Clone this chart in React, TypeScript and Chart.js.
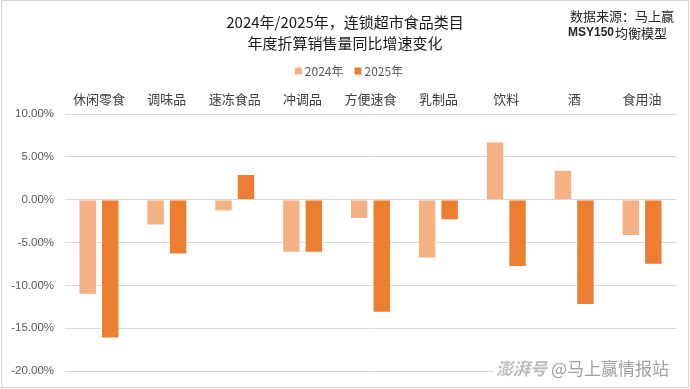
import React, { useEffect, useRef } from "react";
import { Chart, registerables } from "chart.js";

Chart.register(...registerables);

const categories = ["休闲零食", "调味品", "速冻食品", "冲调品", "方便速食", "乳制品", "饮料", "酒", "食用油"];
const series2024 = [-11.1, -3.0, -1.35, -6.2, -2.25, -6.85, 6.8, 3.5, -4.25];
const series2025 = [-16.2, -6.4, 3.0, -6.2, -13.2, -2.4, -7.85, -12.3, -7.6];
const seriesLabels = ["2024年", "2025年"];
const seriesColors = ["#F4B183", "#ED7D31"];
const titleLines = ["2024年/2025年，连锁超市食品类目", "年度折算销售量同比增速变化"];
const sourceLines = ["数据来源：马上赢", "MSY150均衡模型"];
const watermarkLogo = "澎湃号";
const watermarkText = "@马上赢情报站";

const CJK = '"Noto Sans CJK SC", "Liberation Sans", sans-serif';

const decorPlugin = {
  id: "decor",
  beforeDraw(chart: any) {
    const ctx = chart.ctx;
    ctx.save();
    ctx.fillStyle = "#ffffff";
    ctx.fillRect(0, 0, chart.width, chart.height);
    ctx.restore();
  },
  afterDraw(chart: any) {
    const ctx = chart.ctx;
    const cx = chart.width / 2;
    ctx.save();
    // title
    ctx.fillStyle = "#1a1a1a";
    ctx.textAlign = "center";
    ctx.textBaseline = "middle";
    ctx.font = `15px ${CJK}`;
    ctx.fillText(titleLines[0], cx, 22);
    ctx.fillText(titleLines[1], cx, 43);
    // source note
    ctx.textAlign = "left";
    ctx.fillStyle = "#262626";
    ctx.font = `13px ${CJK}`;
    ctx.fillText(sourceLines[0], 570, 16);
    const m = sourceLines[1].match(/^[A-Za-z0-9]+/);
    const head = m ? m[0] : "";
    const rest = sourceLines[1].slice(head.length);
    ctx.font = `bold 12px "Liberation Sans Narrow", "Liberation Sans", sans-serif`;
    ctx.fillText(head, 568, 33);
    const hw = ctx.measureText(head).width;
    ctx.font = `13px ${CJK}`;
    ctx.fillText(rest, 568 + hw + 1, 33);
    // legend
    ctx.font = `12px ${CJK}`;
    const ds = chart.data.datasets;
    const sq = 7;
    const gap = 3;
    const itemGap = 11;
    const widths = ds.map((d: any) => sq + gap + ctx.measureText(d.label).width);
    const total = widths.reduce((a: number, b: number) => a + b, 0) + itemGap * (ds.length - 1);
    let x = cx + 4 - total / 2;
    const ly = 71;
    ds.forEach((d: any, i: number) => {
      ctx.fillStyle = d.backgroundColor;
      ctx.fillRect(x, ly - sq / 2, sq, sq);
      ctx.fillStyle = "#595959";
      ctx.textAlign = "left";
      ctx.fillText(d.label, x + sq + gap, ly);
      x += widths[i] + itemGap;
    });
    // watermark
    ctx.fillStyle = "#ffffff";
    ctx.fillRect(494, 358, 188, 24);
    ctx.font = `italic bold 17px ${CJK}`;
    ctx.fillStyle = "#bdbdbd";
    ctx.textAlign = "left";
    ctx.fillText(watermarkLogo, 496, 369);
    ctx.font = `17px ${CJK}`;
    ctx.fillStyle = "#a0a0a0";
    ctx.fillText(watermarkText, 551, 369);
    // border
    ctx.strokeStyle = "#d4d4d4";
    ctx.lineWidth = 1;
    ctx.strokeRect(1.5, 0.5, chart.width - 3, chart.height - 2);
    ctx.restore();
  },
};

export default function App() {
  const ref = useRef<HTMLCanvasElement | null>(null);
  useEffect(() => {
    if (!ref.current) return;
    const chart = new Chart(ref.current, {
      type: "bar",
      data: {
        labels: categories,
        datasets: [
          { label: seriesLabels[0], data: series2024, backgroundColor: seriesColors[0], borderColor: "rgba(255,255,255,0.5)", borderWidth: 1 },
          { label: seriesLabels[1], data: series2025, backgroundColor: seriesColors[1], borderColor: "rgba(255,255,255,0.5)", borderWidth: 1 },
        ],
      },
      options: {
        responsive: false,
        animation: false,
        devicePixelRatio: 1,
        layout: { padding: { left: 0, right: 14, top: 84, bottom: 7.6 } },
        datasets: { bar: { categoryPercentage: 0.663, barPercentage: 0.82 } },
        plugins: {
          legend: { display: false },
          title: { display: false },
          tooltip: { enabled: false },
        },
        scales: {
          x: {
            position: "top",
            grid: { display: false, drawTicks: false },
            border: { display: false },
            ticks: { color: "#404040", font: { family: CJK, size: 13 }, padding: 7, maxRotation: 0 },
            afterFit: (s: any) => { s.height = 30; },
          },
          y: {
            min: -20,
            max: 10,
            grid: { color: "#d9d9d9", lineWidth: 1, drawTicks: false },
            border: { display: false },
            ticks: {
              stepSize: 5,
              color: "#595959",
              font: { family: '"Liberation Sans", Arial, sans-serif', size: 11.5 },
              padding: 11,
              callback: (v: any) => Number(v).toFixed(2) + "%",
            },
            afterFit: (s: any) => { s.width = 65; },
          },
        },
      },
      plugins: [decorPlugin],
    });
    return () => chart.destroy();
  }, []);
  return (
    <div style={{ position: "fixed", left: 0, top: 0, width: 690, height: 389, background: "#fff" }}>
      <canvas ref={ref} width={690} height={389} style={{ display: "block", width: 690, height: 389 }} />
    </div>
  );
}
